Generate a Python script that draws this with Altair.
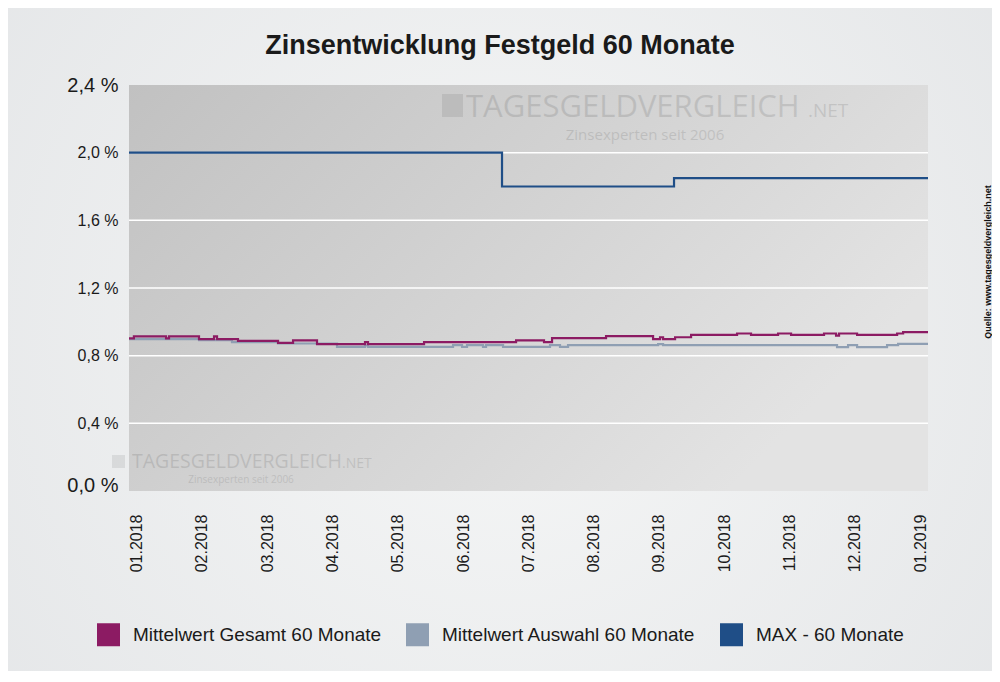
import json
import altair as alt
import pandas as pd

# ---------------- data ----------------
months = ["01.2018", "02.2018", "03.2018", "04.2018", "05.2018", "06.2018", "07.2018",
          "08.2018", "09.2018", "10.2018", "11.2018", "12.2018", "01.2019"]
y_ticks = [0.0, 0.4, 0.8, 1.2, 1.6, 2.0, 2.4]
grid_values = [0.4, 0.8, 1.2, 1.6, 2.0]

series_names = ["Mittelwert Gesamt 60 Monate", "Mittelwert Auswahl 60 Monate", "MAX - 60 Monate"]
series_colors = ["#8c1b63", "#8f9fb3", "#1f4e87"]

# x = position in months after 01.2018 (0 = 01.2018, 12 = 01.2019)
gesamt_x = [-0.115, -0.04, 0.452, 0.498, 0.957, 1.187, 1.233, 1.554, 2.167, 2.397, 2.764, 3.499,
            3.545, 4.403, 5.812, 6.240, 6.363, 7.190, 7.910, 8.017, 8.063, 8.247, 8.492, 9.196,
            9.410, 9.824, 10.023, 10.528, 10.712, 10.758, 11.034, 11.647, 11.739, 12.12]
gesamt_y = [0.902, 0.914, 0.902, 0.914, 0.898, 0.914, 0.898, 0.888, 0.876, 0.890, 0.868, 0.880,
            0.868, 0.880, 0.890, 0.880, 0.904, 0.915, 0.898, 0.909, 0.898, 0.909, 0.923, 0.931,
            0.923, 0.931, 0.923, 0.931, 0.918, 0.931, 0.923, 0.931, 0.939, 0.939]

auswahl_x = [-0.115, 0.957, 1.462, 2.167, 3.070, 3.499, 3.545, 4.847, 4.985, 5.061, 5.306, 5.352,
             5.613, 6.332, 6.485, 6.608, 7.987, 8.063, 10.727, 10.896, 11.034, 11.493, 11.662, 12.12]
auswahl_y = [0.898, 0.892, 0.880, 0.872, 0.852, 0.860, 0.852, 0.862, 0.852, 0.862, 0.852, 0.862,
             0.852, 0.862, 0.852, 0.862, 0.868, 0.862, 0.850, 0.862, 0.850, 0.862, 0.870, 0.870]

max_x = [-0.115, 5.597, 8.231, 12.12]
max_y = [2.0, 1.80, 1.85, 1.85]

title_text = "Zinsentwicklung Festgeld 60 Monate"
source_text = "Quelle: www.tagesgeldvergleich.net"
wm_brand = "TAGESGELDVERGLEICH"
wm_tld = ".NET"
wm_sub = "Zinsexperten seit 2006"

# ---------------- frames ----------------
rows = []
for name, xs, ys in [(series_names[1], auswahl_x, auswahl_y),
                     (series_names[0], gesamt_x, gesamt_y),
                     (series_names[2], max_x, max_y)]:
    for xv, yv in zip(xs, ys):
        rows.append({"series": name, "t": xv, "rate": yv})
df = pd.DataFrame(rows)

W, H = 799, 406
FONT = "Liberation Sans"
WMFONT = "Open Sans"

x_scale = alt.Scale(domain=[-0.115, 12.12], nice=False, zero=False)
y_scale = alt.Scale(domain=[0, 2.4], nice=False, zero=True)
stroke_scale = alt.Scale(domain=series_names, range=series_colors)

y_axis = alt.Axis(
    values=y_ticks, title=None, grid=False, domain=False, ticks=False, tickSize=0, zindex=2,
    labelPadding=11, labelFont=FONT, labelColor="#1a1a1a", labelOverlap=False,
    labelExpr="replace(format(datum.value, '.1f'), '.', ',') + ' %'",
    labelFontSize=alt.condition("datum.value < 0.1 || datum.value > 2.3", alt.value(20), alt.value(16)),
    labelOffset=alt.condition("datum.value < 0.1", alt.value(-6), alt.value(0)),
)
x_axis = alt.Axis(
    values=list(range(13)), title=None, grid=False, domain=False, ticks=False, tickSize=0, zindex=2,
    labelAngle=-90, labelPadding=23, labelFont=FONT, labelFontSize=16, labelColor="#1a1a1a",
    labelOverlap=False, labelFlush=False,
    labelExpr=json.dumps(months) + "[datum.value]",
)
legend = alt.Legend(
    title=None, orient="none", legendX=-32, legendY=538, direction="horizontal",
    symbolType="square", symbolSize=100, symbolStrokeWidth=13, symbolOpacity=1,
    labelFont=FONT, labelFontSize=19, labelColor="#1a1a1a", labelOffset=13,
    labelLimit=400, columnPadding=4, padding=0, rowPadding=0, zindex=2,
)

one = pd.DataFrame({"k": [0]})

page_bg = alt.Chart(one).mark_rect(
    fill=alt.RadialGradient(
        gradient="radial",
        stops=[alt.GradientStop(offset=0, color="#f6f7f7"),
               alt.GradientStop(offset=1, color="#e2e4e6")],
        x1=0.5, y1=0.5, r1=0, x2=0.5, y2=0.5, r2=0.75),
).encode(x=alt.value(-121), x2=alt.value(W + 64), y=alt.value(-77), y2=alt.value(H + 180))

plot_bg = alt.Chart(one).mark_rect(
    fill=alt.LinearGradient(
        gradient="linear",
        stops=[alt.GradientStop(offset=0, color="#c1c1c1"),
               alt.GradientStop(offset=1, color="#e3e3e3")],
        x1=0, y1=0, x2=1, y2=0.5),
).encode(x=alt.value(0), x2=alt.value(W), y=alt.value(0), y2=alt.value(H))

def text_layer(txt, x, y, size, font=FONT, weight="normal", align="left", baseline="alphabetic",
               color="#1a1a1a", opacity=1.0, angle=0):
    return alt.Chart(pd.DataFrame({"txt": [txt]})).mark_text(
        font=font, fontSize=size, fontWeight=weight, align=align, baseline=baseline,
        color=color, opacity=opacity, angle=angle,
    ).encode(text="txt:N", x=alt.value(x), y=alt.value(y))

def icon_layer(x, y, x2, y2):
    return alt.Chart(one).mark_rect(color="#000000", opacity=0.08).encode(
        x=alt.value(x), x2=alt.value(x2), y=alt.value(y), y2=alt.value(y2))

WM_OP = 0.1
wm = [
    icon_layer(313, 9, 334, 32),
    text_layer(wm_brand, 337, 32, 31, font=WMFONT, color="#000000", opacity=WM_OP),
    text_layer(wm_tld, 679, 32, 19, font=WMFONT, color="#000000", opacity=WM_OP),
    text_layer(wm_sub, 516, 50, 15, font=WMFONT, align="center", baseline="middle",
               color="#000000", opacity=WM_OP),
    icon_layer(-17, 370, -4, 383),
    text_layer(wm_brand, 3, 383, 19.5, font=WMFONT, color="#000000", opacity=WM_OP),
    text_layer(wm_tld, 213, 383, 14, font=WMFONT, color="#000000", opacity=WM_OP),
    text_layer(wm_sub, 112, 395, 10, font=WMFONT, align="center", baseline="middle",
               color="#000000", opacity=WM_OP),
]

grid = alt.Chart(pd.DataFrame({"rate": grid_values})).mark_rule(
    color="#ffffff", strokeWidth=1.5
).encode(y=alt.Y("rate:Q", scale=y_scale, axis=y_axis))

def line_layer(name):
    return alt.Chart(df).transform_filter(
        alt.datum.series == name
    ).mark_line(interpolate="step-after", strokeWidth=2.2).encode(
        x=alt.X("t:Q", scale=x_scale, axis=x_axis),
        y=alt.Y("rate:Q", scale=y_scale, axis=y_axis),
        stroke=alt.Stroke("series:N", scale=stroke_scale, legend=legend),
    )

title_layer = text_layer(title_text, 371, -31, 27, weight="bold", align="center", color="#1a1a1a")
source_layer = text_layer(source_text, 859, 177, 9, weight="bold", align="center",
                          baseline="middle", color="#111111", angle=270)

chart = alt.layer(
    page_bg, plot_bg, *wm, grid,
    line_layer(series_names[1]), line_layer(series_names[0]), line_layer(series_names[2]),
    title_layer, source_layer,
).properties(
    width=W, height=H,
    padding={"left": 121, "top": 77, "right": 64, "bottom": 180},
    autosize=alt.AutoSizeParams(type="none"),
).configure(
    background="#eceeef",
).configure_view(
    stroke=None,
)

chart.save("out.html", embed_options={"renderer": "svg", "actions": False})
